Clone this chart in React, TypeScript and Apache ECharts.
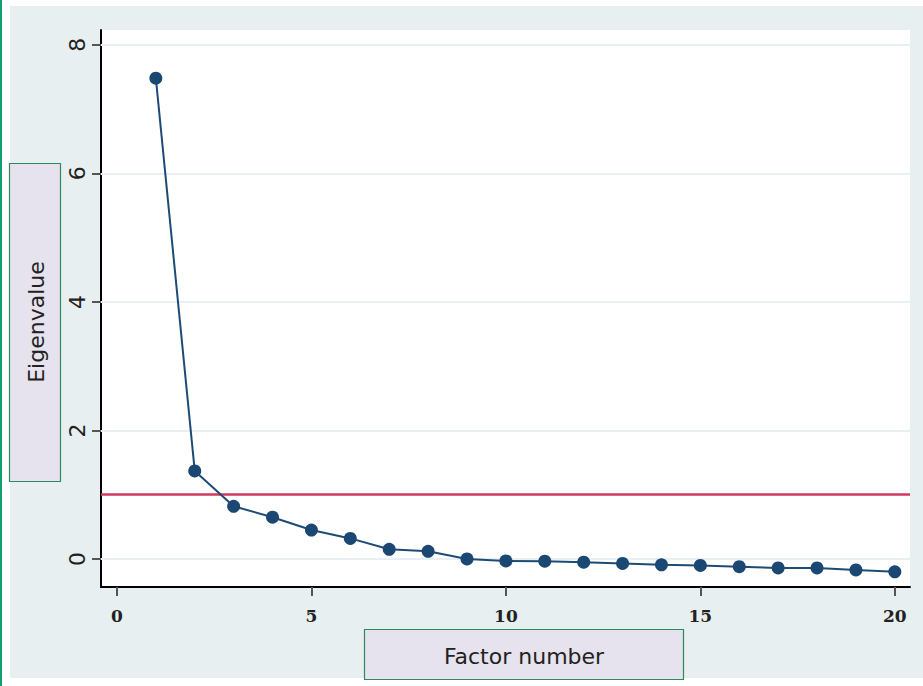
import React, { useEffect, useRef } from "react";
import * as echarts from "echarts";

const factorNumbers = [1, 2, 3, 4, 5, 6, 7, 8, 9, 10, 11, 12, 13, 14, 15, 16, 17, 18, 19, 20];
const eigenvalues = [7.48, 1.37, 0.82, 0.65, 0.45, 0.32, 0.15, 0.12, 0.0, -0.03, -0.035, -0.05, -0.07, -0.09, -0.1, -0.12, -0.14, -0.14, -0.17, -0.2];
const xTicks = [0, 5, 10, 15, 20];
const yTicks = [0, 2, 4, 6, 8];
const referenceLine = 1;
const xTitle = "Factor number";
const yTitle = "Eigenvalue";

export default function App() {
  const ref = useRef<HTMLDivElement>(null);
  useEffect(() => {
    if (!ref.current) return;
    const chart = echarts.init(ref.current, null, { renderer: "svg" });
    const data = factorNumbers.map((f, i) => [f, eigenvalues[i]]);
    const option: any = {
      animation: false,
      backgroundColor: "#e8eff1",
      grid: {
        left: 101,
        right: 13,
        top: 30,
        bottom: 99,
        show: true,
        backgroundColor: "#ffffff",
        borderWidth: 0,
      },
      xAxis: {
        type: "value",
        min: -0.41,
        max: 20.39,
        splitLine: { show: false },
        axisLine: { show: true, onZero: false, lineStyle: { color: "#000", width: 2 } },
        axisTick: { show: true, customValues: xTicks, length: 9, lineStyle: { color: "#555", width: 2 } },
        axisLabel: {
          customValues: xTicks,
          margin: 20,
          fontFamily: "DejaVu Serif",
          fontWeight: "bold",
          fontSize: 17,
          color: "#222",
        },
      },
      yAxis: {
        type: "value",
        min: -0.436,
        max: 8.23,
        splitLine: { show: false },
        axisLine: { show: true, onZero: false, lineStyle: { color: "#000", width: 2 } },
        axisTick: { show: true, customValues: yTicks, length: 9, lineStyle: { color: "#555", width: 2 } },
        axisLabel: {
          customValues: yTicks,
          rotate: 90,
          margin: 13,
          fontFamily: "DejaVu Sans",
          fontSize: 22,
          color: "#222",
        },
      },
      series: [
        {
          type: "line",
          data,
          symbol: "circle",
          symbolSize: 13,
          lineStyle: { color: "#1d4b76", width: 2 },
          itemStyle: { color: "#1b4872" },
          z: 5,
          markLine: {
            silent: true,
            symbol: "none",
            label: { show: false },
            z: 1,
            data: [
              ...yTicks.map((v) => ({ yAxis: v, lineStyle: { color: "#e9f0f3", width: 2, type: "solid" } })),
              { yAxis: referenceLine, lineStyle: { color: "#d03a5f", width: 2.5, type: "solid" } },
            ],
          },
        },
      ],
      graphic: [
        { type: "rect", shape: { x: 0, y: 0, width: 923, height: 6 }, style: { fill: "#fff" }, silent: true },
        { type: "rect", shape: { x: 0, y: 678, width: 923, height: 8 }, style: { fill: "#fff" }, silent: true },
        { type: "rect", shape: { x: 0, y: 0, width: 10, height: 686 }, style: { fill: "#fff" }, silent: true },
        { type: "rect", shape: { x: 0, y: 0, width: 2, height: 686 }, style: { fill: "#10a070" }, silent: true },
        {
          type: "rect",
          shape: { x: 9.5, y: 163.5, width: 51, height: 318 },
          style: { fill: "#e6e3ee", stroke: "#2e8a5e", lineWidth: 1.2 },
          silent: true,
        },
        {
          type: "text",
          x: 36,
          y: 322,
          rotation: Math.PI / 2,
          style: {
            text: yTitle,
            fontFamily: "DejaVu Sans",
            fontSize: 22,
            fill: "#222",
            align: "center",
            verticalAlign: "middle",
          },
          silent: true,
        },
        {
          type: "rect",
          shape: { x: 364.5, y: 629.5, width: 319, height: 50 },
          style: { fill: "#e6e3ee", stroke: "#2e8a5e", lineWidth: 1.2 },
          silent: true,
        },
        {
          type: "text",
          x: 524,
          y: 656,
          style: {
            text: xTitle,
            fontFamily: "DejaVu Sans",
            fontSize: 22,
            fill: "#222",
            align: "center",
            verticalAlign: "middle",
          },
          silent: true,
        },
      ],
    };
    chart.setOption(option);
    return () => chart.dispose();
  }, []);
  return (
    <div
      ref={ref}
      style={{ position: "absolute", left: 0, top: 0, width: 923, height: 686 }}
    />
  );
}
